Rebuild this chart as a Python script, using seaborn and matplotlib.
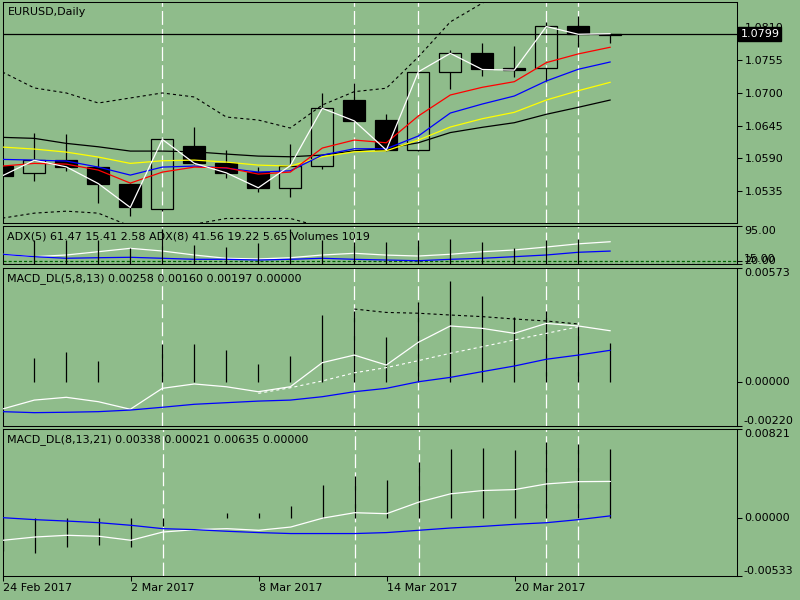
import matplotlib
matplotlib.use("Agg")
import matplotlib.pyplot as plt
import numpy as np
import pandas as pd
import seaborn as sns

# ------------------------------------------------------------------ data
bar_dates = ["24 Feb", "27 Feb", "28 Feb", "1 Mar", "2 Mar", "3 Mar", "6 Mar", "7 Mar",
             "8 Mar", "9 Mar", "10 Mar", "13 Mar", "14 Mar", "15 Mar", "16 Mar", "17 Mar",
             "20 Mar", "21 Mar", "22 Mar", "23 Mar"]
date_tick_pos = [0, 4, 8, 12, 16]
date_tick_labels = ["24 Feb 2017", "2 Mar 2017", "8 Mar 2017", "14 Mar 2017", "20 Mar 2017"]

open_ = [1.0577, 1.0565, 1.0587, 1.0576, 1.0547, 1.0506, 1.0611, 1.0583, 1.0567, 1.0540,
         1.0577, 1.0688, 1.0654, 1.0604, 1.0735, 1.0766, 1.0741, 1.0741, 1.0812, 1.0796]
high = [1.0582, 1.0633, 1.0631, 1.0591, 1.0549, 1.0623, 1.0642, 1.0604, 1.0576, 1.0615,
        1.0699, 1.0717, 1.0664, 1.0736, 1.0772, 1.0784, 1.0778, 1.0819, 1.0828, 1.0800]
low = [1.0557, 1.0552, 1.0569, 1.0515, 1.0494, 1.0502, 1.0580, 1.0558, 1.0534, 1.0525,
       1.0573, 1.0652, 1.0603, 1.0603, 1.0706, 1.0728, 1.0726, 1.0719, 1.0776, 1.0783]
close = [1.0561, 1.0587, 1.0576, 1.0548, 1.0508, 1.0622, 1.0582, 1.0566, 1.0541, 1.0578,
         1.0674, 1.0653, 1.0604, 1.0735, 1.0766, 1.0739, 1.0738, 1.0811, 1.0798, 1.0799]

ma_red = [1.05773, 1.05818, 1.05806, 1.05706, 1.05488, 1.05672, 1.05756, 1.05744, 1.05639, 1.05672,
          1.06075, 1.06209, 1.06163, 1.06611, 1.06963, 1.07092, 1.07186, 1.07505, 1.07651, 1.07763]
ma_blue = [1.05885, 1.05873, 1.05857, 1.05756, 1.05622, 1.05756, 1.05773, 1.05739, 1.05672, 1.05694,
           1.05957, 1.06063, 1.06063, 1.06276, 1.06661, 1.06812, 1.06946, 1.07198, 1.07394, 1.07516]
ma_yellow = [1.06091, 1.06058, 1.06007, 1.05924, 1.05818, 1.05862, 1.05873, 1.05840, 1.05789, 1.05773,
             1.05929, 1.06012, 1.06029, 1.06209, 1.06427, 1.06566, 1.06673, 1.06879, 1.07035, 1.07176]
ma_black = [1.06254, 1.06237, 1.06153, 1.06096, 1.06024, 1.06024, 1.06012, 1.05974, 1.05940, 1.05929,
            1.05957, 1.06029, 1.06070, 1.06163, 1.06334, 1.06422, 1.06499, 1.06640, 1.06757, 1.06879]
band_upper = [1.07349, 1.07081, 1.06997, 1.06829, 1.06913, 1.06997, 1.06930, 1.06594, 1.06544, 1.06410,
              1.06796, 1.07019, 1.07076, 1.07600, 1.08187, 1.08501, 1.08808, 1.09030, 1.09190, 1.09290]
band_lower = [1.04901, 1.04985, 1.05018, 1.04985, 1.04767, 1.04700, 1.04800, 1.04896, 1.04896, 1.04896,
              1.04750, 1.04600, 1.04530, 1.04450, 1.04400, 1.04400, 1.04450, 1.04500, 1.04600, 1.04700]
price_ticks = [1.0810, 1.0755, 1.0700, 1.0645, 1.0590, 1.0535]
price_range = (1.0482, 1.0852)
last_price = 1.0799

adx5 = [34.7, 29.6, 33.2, 40.2, 47.4, 41.7, 33.2, 26.1, 24.7, 27.4,
        33.2, 36.8, 33.0, 31.0, 34.7, 40.2, 43.9, 50.2, 57.0, 61.47]
adx8 = [34.7, 29.6, 26.2, 27.4, 28.3, 26.2, 24.0, 24.0, 22.5, 24.0,
        26.2, 24.0, 22.5, 21.0, 24.0, 26.2, 29.6, 33.2, 39.0, 41.56]
adx_levels = [20.0, 15.0]
adx_range = (14.0, 95.0)
volumes_k = [120, 120, 120, 120, 78, 175, 95, 87, 105, 175,
             120, 112, 112, 120, 125, 112, 78, 120, 125, 1.019]
volume_range_k = (0, 190)

macd1_main = [-0.00135, -0.00090, -0.00076, -0.00098, -0.00136, -0.00031, -0.00009, -0.00023, -0.00048, -0.00023,
              0.00098, 0.00136, 0.00086, 0.00200, 0.00282, 0.00270, 0.00245, 0.00295, 0.00282, 0.00258]
macd1_signal = [-0.00148, -0.00153, -0.00151, -0.00148, -0.00140, -0.00126, -0.00111, -0.00103, -0.00095, -0.00090,
                -0.00073, -0.00048, -0.00031, 0.00002, 0.00024, 0.00053, 0.00081, 0.00115, 0.00136, 0.00160]
macd1_hist = [0.00120, 0.00123, 0.00150, 0.00106, 0.00000, 0.00192, 0.00192, 0.00161, 0.00091, 0.00133,
              0.00337, 0.00359, 0.00228, 0.00404, 0.00509, 0.00432, 0.00326, 0.00357, 0.00287, 0.00197]
macd1_extra_idx = [8, 9, 10, 11, 12, 13, 14, 15, 16, 17, 18]
macd1_extra = [-0.00056, -0.00028, 0.00006, 0.00047, 0.00073, 0.00108, 0.00145, 0.00178, 0.00212, 0.00245, 0.00278]
macd1_trend_idx = [11, 12, 13, 14, 15, 16, 17, 18]
macd1_trend = [0.00367, 0.00350, 0.00346, 0.00337, 0.00329, 0.00317, 0.00307, 0.00292]
macd1_range = (-0.00220, 0.00573)

macd2_main = [-0.00204, -0.00174, -0.00158, -0.00167, -0.00204, -0.00128, -0.00106, -0.00097, -0.00112, -0.00082,
              0.00000, 0.00050, 0.00041, 0.00147, 0.00224, 0.00254, 0.00263, 0.00315, 0.00336, 0.00338]
macd2_signal = [0.00004, -0.00014, -0.00027, -0.00042, -0.00066, -0.00097, -0.00106, -0.00121, -0.00133, -0.00142,
                -0.00142, -0.00142, -0.00133, -0.00112, -0.00091, -0.00076, -0.00057, -0.00042, -0.00014, 0.00021]
macd2_hist = [-0.00300, -0.00323, -0.00263, -0.00247, -0.00263, -0.00073, 0.00005, 0.00049, 0.00049, 0.00113,
              0.00302, 0.00384, 0.00348, 0.00515, 0.00637, 0.00646, 0.00631, 0.00705, 0.00681, 0.00635]
macd2_range = (-0.00533, 0.00821)

separator_idx = [5, 11, 13, 17, 18]

# ------------------------------------------------------------------ style
BG = "#8fbc8b"
sns.set_style("white")
plt.rcParams.update({
    "font.family": ["DejaVu Sans"],
    "font.size": 8,
    "lines.scale_dashes": False,
    "axes.linewidth": 0.75,
    "axes.edgecolor": "black",
    "axes.facecolor": BG,
    "figure.facecolor": BG,
    "xtick.color": "black",
    "ytick.color": "black",
    "text.color": "black",
})

idx = list(range(len(bar_dates)))
df = pd.DataFrame({
    "i": idx, "open": open_, "high": high, "low": low, "close": close,
    "red": ma_red, "blue": ma_blue, "yellow": ma_yellow, "black": ma_black,
    "up": band_upper, "lo": band_lower,
    "adx5": adx5, "adx8": adx8, "vol": volumes_k,
    "m1": macd1_main, "s1": macd1_signal, "h1": macd1_hist,
    "m2": macd2_main, "s2": macd2_signal, "h2": macd2_hist,
})

W, H = 800, 600
fig = plt.figure(figsize=(8, 6), dpi=100)


def panel(top, bottom):
    ax = fig.add_axes([3 / W, 1 - bottom / H, 734 / W, (bottom - top) / H])
    ax.set_facecolor(BG)
    return ax


XLIM = ((3 - 2.3) / 32, (737 - 2.3) / 32)
SEP_DASH = (0, (10.0, 3.0))
FINE_DASH = (0, (2.2, 2.2))


def common(ax, ylim):
    ax.set_xlim(*XLIM)
    ax.set_ylim(*ylim)
    for s in ax.spines.values():
        s.set_color("black")
        s.set_linewidth(0.75)
    ax.tick_params(axis="x", bottom=False, labelbottom=False, top=False)
    ax.tick_params(axis="y", left=False, labelleft=False, right=True, labelright=True,
                   direction="out", length=3.6, width=0.75, pad=1.8, labelsize=8)
    for k in separator_idx:
        ax.axvline(k, color="white", lw=0.9, ls=SEP_DASH, zorder=1.5)
    ax.set_xlabel("")
    ax.set_ylabel("")


def title(ax, text, dy):
    ax.annotate(text, xy=(0, 1), xycoords="axes fraction", xytext=(3.2, -dy),
                textcoords="offset points", ha="left", va="center", fontsize=8, zorder=20)


def side_labels(ax, values, texts, vas):
    ax.set_yticks(values)
    ax.set_yticklabels([])
    tr = ax.get_yaxis_transform()
    for v, t, va in zip(values, texts, vas):
        ax.annotate(t, xy=(1, v), xycoords=tr, xytext=(5.0, 0), textcoords="offset points",
                    ha="left", va=va, fontsize=8, annotation_clip=False)


def line(ax, col, color, lw=0.9, data=df, x="i", **kw):
    sns.lineplot(data=data, x=x, y=col, ax=ax, color=color, linewidth=lw,
                 legend=False, estimator=None, sort=False, **kw)


# ------------------------------------------------------------------ main price panel
ax0 = panel(2, 223)
line(ax0, "up", "black", lw=0.8, linestyle=FINE_DASH, zorder=3)
line(ax0, "lo", "black", lw=0.8, linestyle=FINE_DASH, zorder=3)

bull = df[df["close"] >= df["open"]]
bear = df[df["close"] < df["open"]]
BW = 0.69
ax0.bar(bull["i"], (bull["close"] - bull["open"]).clip(lower=0.00003), bottom=bull["open"], width=BW,
        facecolor="none", edgecolor="black", linewidth=0.9, zorder=2.2)
ax0.bar(bear["i"], (bear["open"] - bear["close"]).clip(lower=0.00003), bottom=bear["close"], width=BW,
        facecolor="black", edgecolor="black", linewidth=0.9, zorder=2.2)
body_top = np.maximum(df["open"], df["close"])
body_bot = np.minimum(df["open"], df["close"])
ax0.vlines(df["i"], body_top, df["high"], color="black", lw=0.9, zorder=2.2)
ax0.vlines(df["i"], df["low"], body_bot, color="black", lw=0.9, zorder=2.2)

line(ax0, "black", "black", zorder=3)
line(ax0, "yellow", "#ffff00", zorder=3)
line(ax0, "blue", "#0000ff", zorder=3)
line(ax0, "red", "#ff0000", zorder=3)
line(ax0, "close", "white", zorder=3.2)
ax0.axhline(last_price, color="black", lw=0.9, zorder=2.5)

common(ax0, price_range)
ax0.set_yticks(price_ticks)
ax0.set_yticklabels([f"{v:.4f}" for v in price_ticks])
ax0.annotate(f"{last_price:.4f}", xy=(1, last_price), xycoords=ax0.get_yaxis_transform(),
             xytext=(2.4, 0), textcoords="offset points", ha="left", va="center",
             color="white", fontsize=8, zorder=30, annotation_clip=False,
             bbox=dict(boxstyle="square,pad=0.18", facecolor="black", edgecolor="black"))
title(ax0, "EURUSD,Daily", 7.0)

# ------------------------------------------------------------------ ADX / volumes panel
ax1 = panel(226, 264)
axv = ax1.twinx()
axv.set_ylim(*volume_range_k)
axv.vlines(df["i"], 0, df["vol"], color="black", lw=0.9)
axv.axis("off")
for lv in adx_levels:
    ax1.axhline(lv, color="#006400", lw=0.9, ls=(0, (2.2, 1.5)), zorder=2)
line(ax1, "adx5", "white", zorder=3)
line(ax1, "adx8", "#0000ff", zorder=3)
common(ax1, adx_range)
side_labels(ax1, [95.0] + adx_levels, ["95.00", "20.00", "15.00"], ["top", "center", "bottom"])
title(ax1, "ADX(5) 61.47 15.41 2.58 ADX(8) 41.56 19.22 5.65 Volumes 1019", 7.7)

# ------------------------------------------------------------------ MACD_DL(5,8,13)
ax2 = panel(268, 426)
ax2.vlines(df["i"], 0, df["h1"], color="black", lw=0.9, zorder=2.2)
ext = pd.DataFrame({"i": macd1_extra_idx, "v": macd1_extra})
trd = pd.DataFrame({"i": macd1_trend_idx, "v": macd1_trend})
line(ax2, "v", "black", lw=0.8, data=trd, linestyle=FINE_DASH, zorder=3)
line(ax2, "v", "white", lw=0.8, data=ext, linestyle=FINE_DASH, zorder=3)
line(ax2, "m1", "white", zorder=3)
line(ax2, "s1", "#0000ff", zorder=3)
common(ax2, macd1_range)
side_labels(ax2, [macd1_range[1], 0.0, macd1_range[0]], ["0.00573", "0.00000", "-0.00220"],
            ["top", "center", "bottom"])
title(ax2, "MACD_DL(5,8,13) 0.00258 0.00160 0.00197 0.00000", 7.4)

# ------------------------------------------------------------------ MACD_DL(8,13,21)
ax3 = panel(429, 576)
ax3.vlines(df["i"], 0, df["h2"], color="black", lw=0.9, zorder=2.2)
line(ax3, "m2", "white", zorder=3)
line(ax3, "s2", "#0000ff", zorder=3)
common(ax3, macd2_range)
side_labels(ax3, [macd2_range[1], 0.0, macd2_range[0]], ["0.00821", "0.00000", "-0.00533"],
            ["top", "center", "bottom"])
title(ax3, "MACD_DL(8,13,21) 0.00338 0.00021 0.00635 0.00000", 7.4)
ax3.tick_params(axis="x", bottom=True, labelbottom=True, direction="out",
                length=3.6, width=0.75, pad=1.5, labelsize=8)
ax3.set_xticks(date_tick_pos)
ax3.set_xticklabels(date_tick_labels)
for lab in ax3.get_xticklabels():
    lab.set_horizontalalignment("left")

fig.savefig("out.png", dpi=100, facecolor=BG)
